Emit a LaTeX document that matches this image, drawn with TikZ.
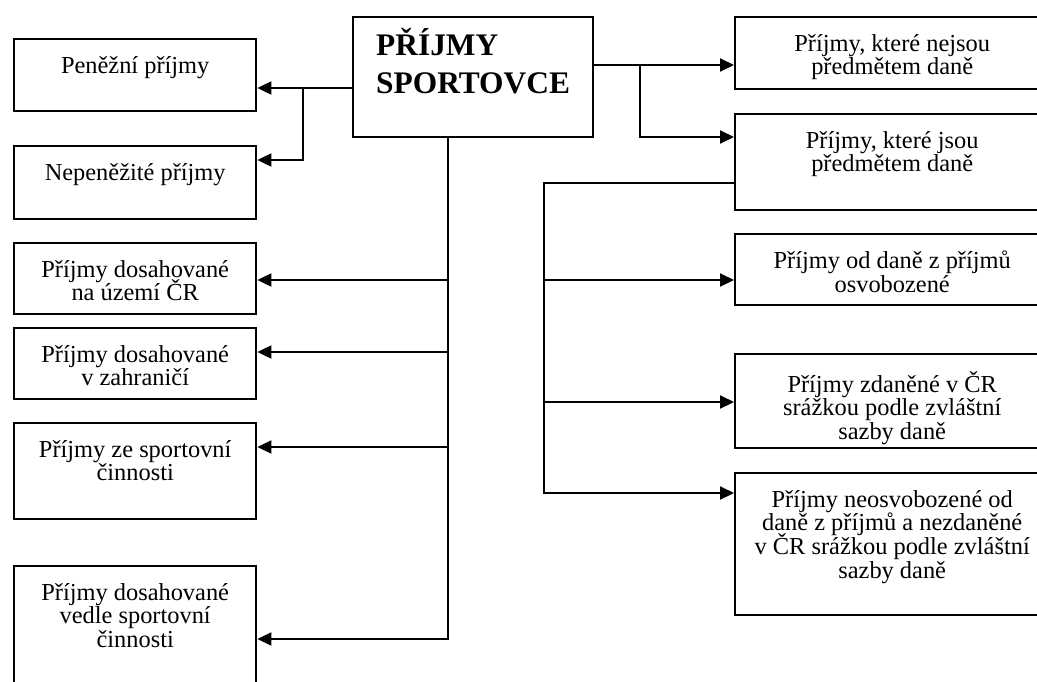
\documentclass[tikz,border=0pt]{standalone}
\usepackage{fontspec}
\setmainfont{Liberation Serif}
\usepackage{tikz}
\usetikzlibrary{positioning,arrows.meta}
\newcommand{\boxtext}[3]{\parbox[c][#1][t]{#2}{\centering\lineskiplimit=-20pt\vspace*{8.5pt}\strut#3}}

\begin{document}
\begin{tikzpicture}[
    x=0.5pt, y=-0.5pt,
    box/.style={rectangle, draw, line width=1.2pt, inner sep=0pt, anchor=north west,
                font=\fontsize{12.2}{11.9}\selectfont},
    head/.style={box, font=\fontsize{15.7}{19}\selectfont\bfseries},
    conn/.style={line width=1pt},
    arr/.style={conn, -{Triangle[length=7pt,width=6.5pt]}}
]
\useasboundingbox (0,0) rectangle (1037,681);
\clip (0,0) rectangle (1037,681);

% hlavni uzel
\node[head] (main) at (352,16) {\parbox[c][60pt][t]{120pt}{\leftskip=11.5pt\lineskiplimit=-20pt\vspace*{5.6pt}\strut PŘÍJMY\\SPORTOVCE}};

% leva strana
\node[box] (pen) at (13,38) {\boxtext{36pt}{121pt}{Peněžní příjmy}};
\node[box] (nepen) at (13,145) {\boxtext{36.5pt}{121pt}{Nepeněžité příjmy}};
\node[box] (uzemi) at (13,242) {\boxtext{35.5pt}{121pt}{Příjmy dosahované\\na území ČR}};
\node[box] (zahr) at (13,327) {\boxtext{35.5pt}{121pt}{Příjmy dosahované\\v zahraničí}};
\node[box] (sport) at (13,422) {\boxtext{48pt}{121pt}{Příjmy ze sportovní\\činnosti}};
\node[box] (vedle) at (13,565) {\boxtext{74pt}{121pt}{Příjmy dosahované\\vedle sportovní\\činnosti}};

% prava strana
\node[box] (nejsou) at (734,16) {\boxtext{36pt}{157pt}{Příjmy, které nejsou\\předmětem daně}};
\node[box] (jsou) at (734,113) {\boxtext{48pt}{157pt}{Příjmy, které jsou\\předmětem daně}};
\node[box] (osv) at (734,233) {\boxtext{35.5pt}{157pt}{Příjmy od daně z příjmů\\osvobozené}};
\node[box] (zdan) at (734,353) {\boxtext{47pt}{157pt}{Příjmy zdaněné v ČR\\srážkou podle zvláštní\\sazby daně}};
\node[box] (neosv) at (734,472) {\boxtext{71pt}{157pt}{Příjmy neosvobozené od\\daně z příjmů a nezdaněné\\v ČR srážkou podle zvláštní\\sazby daně}};

% body napojeni
\path ([yshift=-25pt]pen.north east) coordinate (inPen)
      ([yshift=-7.5pt]nepen.north east) coordinate (inNepen)
      ([yshift=-19pt]uzemi.north east) coordinate (inUzemi)
      ([yshift=-12.5pt]zahr.north east) coordinate (inZahr)
      ([yshift=-12.5pt]sport.north east) coordinate (inSport)
      ([yshift=-37pt]vedle.north east) coordinate (inVedle)
      ([yshift=-24.5pt]nejsou.north west) coordinate (inNejsou)
      ([yshift=-12pt]jsou.north west) coordinate (inJsou)
      ([yshift=-35pt]jsou.north west) coordinate (outJsou)
      ([yshift=-23.5pt]osv.north west) coordinate (inOsv)
      ([yshift=-24.5pt]zdan.north west) coordinate (inZdan)
      ([yshift=-10.5pt]neosv.north west) coordinate (inNeosv);
\coordinate (lsplit) at (303,0);
\coordinate (ltrunk) at (448,0);
\coordinate (rsplit) at (640,0);
\coordinate (rtrunk) at (544,0);

\draw[arr] (main.west |- inPen) -- (inPen);
\draw[arr] (inPen -| lsplit) |- (inNepen);
\draw[arr] (main.south -| ltrunk) |- (inVedle);
\foreach \t in {inUzemi,inZahr,inSport}
    \draw[arr] (\t -| ltrunk) -- (\t);

\draw[arr] (main.east |- inNejsou) -- (inNejsou);
\draw[arr] (inNejsou -| rsplit) |- (inJsou);
\draw[arr] (outJsou) -| (inNeosv -| rtrunk) -- (inNeosv);
\foreach \t in {inOsv,inZdan}
    \draw[arr] (\t -| rtrunk) -- (\t);
\end{tikzpicture}
\end{document}
